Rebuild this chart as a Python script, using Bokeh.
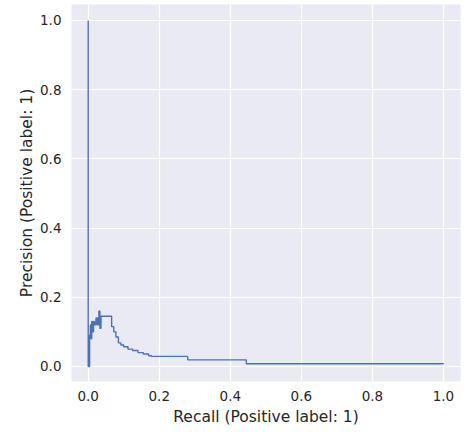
from bokeh.plotting import figure
from bokeh.models import Range1d, FixedTicker, PrintfTickFormatter
from bokeh.embed import file_html
from bokeh.resources import INLINE

# Precision-recall curve (steps-post)
recall = [0.0, 0.0, 0.004, 0.006, 0.008, 0.010, 0.012, 0.015, 0.018, 0.022,
          0.026, 0.030, 0.033, 0.036, 0.045, 0.055, 0.063, 0.066, 0.072, 0.078,
          0.085, 0.092, 0.100, 0.112, 0.125, 0.140, 0.155, 0.170, 0.178, 0.280,
          0.445, 1.0]
precision = [1.0, 0.0, 0.09, 0.12, 0.08, 0.13, 0.10, 0.13, 0.12, 0.14,
             0.12, 0.16, 0.11, 0.145, 0.145, 0.145, 0.145, 0.115, 0.10, 0.085,
             0.068, 0.062, 0.057, 0.05, 0.046, 0.04, 0.036, 0.031, 0.029, 0.019,
             0.008, 0.007]
tick_values = [0.0, 0.2, 0.4, 0.6, 0.8, 1.0]

FONT = "DejaVu Sans"
TXT = "#262626"

p = figure(frame_width=389, frame_height=377, output_backend="svg",
           toolbar_location=None,
           x_range=Range1d(-0.047, 1.048), y_range=Range1d(-0.0435, 1.046),
           min_border_left=71, min_border_right=6, min_border_top=4,
           min_border_bottom=40)

p.background_fill_color = "#EAEAF2"
p.border_fill_color = "white"
p.outline_line_color = None

p.step(recall, precision, mode="after", line_color="#4C72B0", line_width=1.4)

for ax in (p.xaxis[0], p.yaxis[0]):
    ax.ticker = FixedTicker(ticks=tick_values)
    ax.formatter = PrintfTickFormatter(format="%.1f")
    ax.axis_line_color = None
    ax.major_tick_line_color = None
    ax.minor_tick_line_color = None
    ax.major_tick_in = 0
    ax.major_tick_out = 0
    ax.major_label_text_font = FONT
    ax.major_label_text_font_size = "13.5px"
    ax.major_label_text_color = TXT
    ax.axis_label_text_font = FONT
    ax.axis_label_text_font_size = "15.5px"
    ax.axis_label_text_font_style = "normal"
    ax.axis_label_text_color = TXT

p.xaxis.axis_label = "Recall (Positive label: 1)"
p.yaxis.axis_label = "Precision (Positive label: 1)"
p.xaxis.major_label_standoff = 9
p.yaxis.major_label_standoff = 10
p.xaxis.axis_label_standoff = 4
p.yaxis.axis_label_standoff = 1

p.xgrid.ticker = FixedTicker(ticks=tick_values)
p.ygrid.ticker = FixedTicker(ticks=tick_values)
p.grid.grid_line_color = "white"
p.grid.grid_line_width = 1.2

open("out.html", "w").write(file_html(p, INLINE))
